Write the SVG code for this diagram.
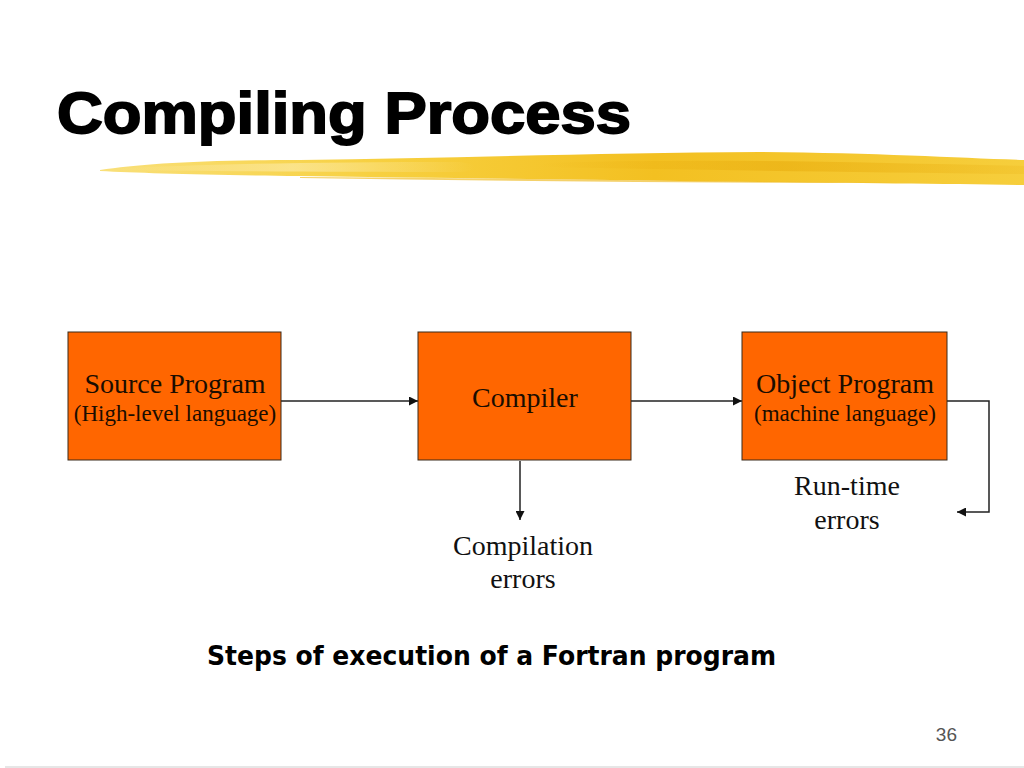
<svg xmlns="http://www.w3.org/2000/svg" width="1024" height="768" viewBox="0 0 1024 768">
  <defs>
    <style>
      .box { fill: #FF6600; stroke: #3a2a1a; stroke-width: 1; }
      .main { font-family: "Liberation Serif", "Times New Roman", serif; font-size: 28px; fill: #1a0d00; text-anchor: middle; }
      .sub { font-family: "Liberation Serif", "Times New Roman", serif; font-size: 23px; fill: #1a0d00; text-anchor: middle; }
      .lbl { font-family: "Liberation Serif", "Times New Roman", serif; font-size: 28px; fill: #111; text-anchor: middle; }
      .conn { fill: none; stroke: #222; stroke-width: 1.5; }
    </style>
    <marker id="arr" viewBox="0 0 10 10" refX="10" refY="5" markerWidth="9" markerHeight="9" markerUnits="userSpaceOnUse" orient="auto">
      <path d="M0,0 L10,5 L0,10 z" fill="#111"/>
    </marker>
    <linearGradient id="brush" x1="0" y1="0" x2="1" y2="0">
      <stop offset="0" stop-color="#F9E07A"/>
      <stop offset="0.3" stop-color="#F7D040"/>
      <stop offset="0.6" stop-color="#F3C021"/>
      <stop offset="1" stop-color="#F6CE3C"/>
    </linearGradient>
    <linearGradient id="fadeL" x1="0" y1="0" x2="1" y2="0">
      <stop offset="0" stop-color="#FCEBA8" stop-opacity="0"/>
      <stop offset="0.5" stop-color="#FCE9A0" stop-opacity="0.7"/>
      <stop offset="1" stop-color="#FCE9A0" stop-opacity="0"/>
    </linearGradient>
    <linearGradient id="fadeD" x1="0" y1="0" x2="1" y2="0">
      <stop offset="0" stop-color="#E9AE10" stop-opacity="0"/>
      <stop offset="0.5" stop-color="#E9AE10" stop-opacity="0.6"/>
      <stop offset="1" stop-color="#E9AE10" stop-opacity="0.2"/>
    </linearGradient>
  </defs>

  <rect x="0" y="0" width="1024" height="768" fill="#ffffff"/>

  <!-- Title -->
  <text x="57" y="133" font-family="Liberation Sans, Arial, sans-serif" font-size="58" font-weight="bold" fill="#000" stroke="#000" stroke-width="1.8" textLength="574" lengthAdjust="spacingAndGlyphs">Compiling Process</text>

  <!-- Brush stroke -->
  <g id="brush-stroke">
    <path d="M100,170 C140,164 200,160 300,160 C450,158 600,153 760,152 C880,153 960,158 1024,160 L1024,185 C950,184 850,183 760,182 C600,180 450,178 300,176 C200,175 140,173 100,171 Z" fill="url(#brush)"/>
    <path d="M110,169 C200,164 320,162 460,162 C480,165 480,170 460,172 C320,172 200,171 110,170 Z" fill="url(#fadeL)"/>
    <path d="M540,163 C700,158 850,162 1024,166 L1024,174 C850,172 700,170 540,167 Z" fill="url(#fadeD)"/>
    <path d="M300,177 C500,178 700,181 900,183 C700,183 500,181 300,178 Z" fill="#EFBE2C" opacity="0.7"/>
  </g>

  <!-- Connectors -->
  <g id="connectors">
    <line class="conn" x1="281" y1="401" x2="418" y2="401" marker-end="url(#arr)"/>
    <line class="conn" x1="631" y1="401" x2="742" y2="401" marker-end="url(#arr)"/>
    <line class="conn" x1="520" y1="461" x2="520" y2="520" marker-end="url(#arr)"/>
    <polyline class="conn" points="947,401 989,401 989,512 957,512" stroke="#333" marker-end="url(#arr)"/>
  </g>

  <!-- Nodes -->
  <g id="node-source">
    <rect class="box" x="68" y="332" width="213" height="128"/>
    <text class="main" x="175" y="393">Source Program</text>
    <text class="sub" x="175" y="421">(High-level language)</text>
  </g>
  <g id="node-compiler">
    <rect class="box" x="418" y="332" width="213" height="128"/>
    <text class="main" x="525" y="407">Compiler</text>
  </g>
  <g id="node-object">
    <rect class="box" x="742" y="332" width="205" height="128"/>
    <text class="main" x="845" y="393">Object Program</text>
    <text class="sub" x="845" y="421">(machine language)</text>
  </g>

  <g id="label-compilation-errors">
    <text class="lbl" x="523" y="555">Compilation</text>
    <text class="lbl" x="523" y="588">errors</text>
  </g>
  <g id="label-runtime-errors">
    <text class="lbl" x="847" y="495">Run-time</text>
    <text class="lbl" x="847" y="529">errors</text>
  </g>

  <!-- Caption -->
  <text x="207" y="665" font-family="DejaVu Sans, Verdana, sans-serif" font-size="27" font-weight="bold" fill="#000" textLength="569" lengthAdjust="spacingAndGlyphs">Steps of execution of a Fortran program</text>

  <!-- Page number -->
  <text x="957" y="741" font-family="Liberation Sans Narrow, Liberation Sans, Arial, sans-serif" font-size="19" fill="#555" text-anchor="end">36</text>

  <line x1="5" y1="767" x2="1024" y2="767" stroke="#e6e6e6" stroke-width="2"/>
</svg>
